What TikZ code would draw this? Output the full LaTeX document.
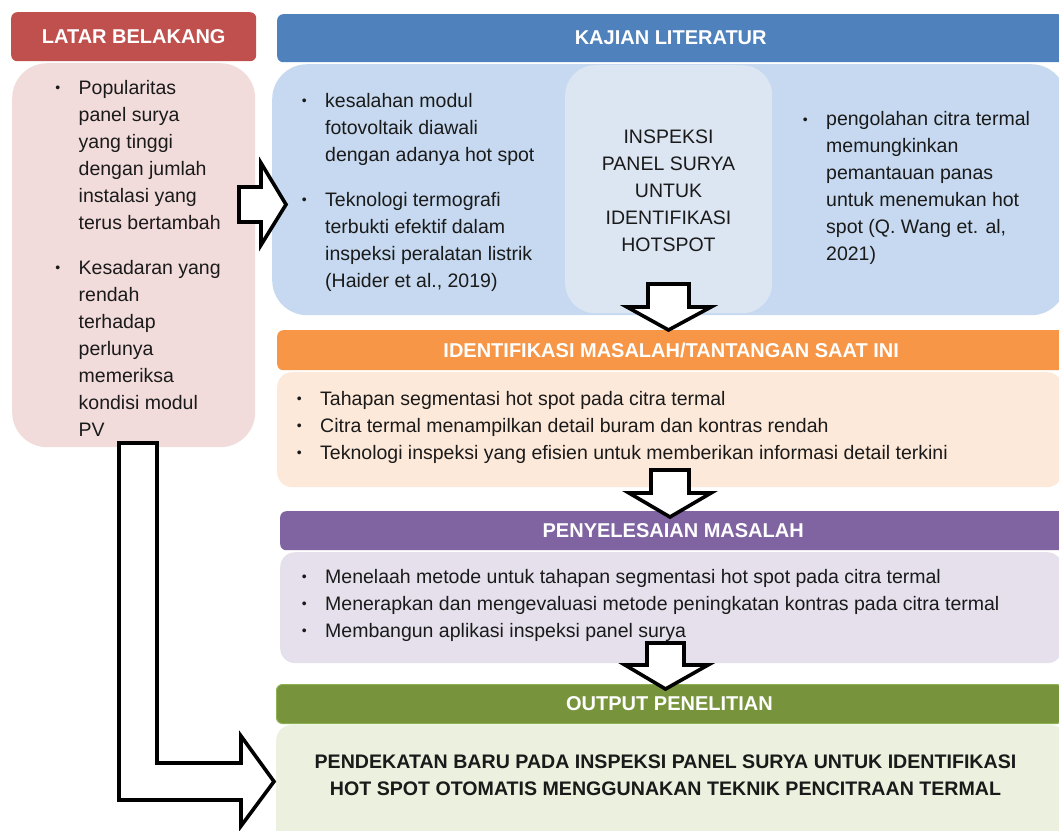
\documentclass[tikz,border=0pt]{standalone}
\usepackage{fontspec}
\setmainfont{Liberation Sans}
\definecolor{cred}{HTML}{C0504D}
\definecolor{cblue}{HTML}{4F81BD}
\definecolor{corange}{HTML}{F79646}
\definecolor{cpurple}{HTML}{8064A2}
\definecolor{cgreen}{HTML}{77933C}
\definecolor{cgreenline}{HTML}{8DB051}
\definecolor{bpink}{HTML}{F2DCDB}
\definecolor{bblue}{HTML}{C6D9F0}
\definecolor{binner}{HTML}{DCE6F2}
\definecolor{borange}{HTML}{FDE9D9}
\definecolor{bpurple}{HTML}{E5E0EC}
\definecolor{bgreen}{HTML}{EBF1DE}
\definecolor{tgray}{HTML}{1A1A1A}
\newcommand\bfnt{\fontsize{19.5}{27}\selectfont}
\newcommand\hfnt{\fontsize{20}{24}\selectfont\bfseries}
\newcommand\bul{\llap{\raisebox{1.2pt}{\fontsize{14}{14}\selectfont\textbullet}\hspace{18.5pt}}}
\begin{document}
\begin{tikzpicture}[x=1pt,y=-1pt,
  hdr/.style={rounded corners=6pt, text=white, font=\hfnt, inner sep=0pt, anchor=north west},
  bodybox/.style={inner sep=0pt, anchor=north west},
  txt/.style={inner sep=0pt, anchor=base west, align=left, font=\bfnt, text=tgray},
  blockarrow/.style={draw=black, fill=white, line width=3.6pt, miter limit=10}
]
\clip (0,0) rectangle (1059,830);
\fill[white] (0,0) rectangle (1059,830);

% Latar belakang (text nodes are placed by the baseline of their last line)
\node[hdr, fill=cred, minimum width=245pt, minimum height=49pt] (latarhdr) at (11,12) {LATAR BELAKANG};
\node[bodybox, fill=bpink, rounded corners=35pt, minimum width=243pt, minimum height=384pt] (latarbody) at (12,63) {};
\node[txt] (latartxt) at (78.5,436) {\bul Popularitas\\ panel surya\\ yang tinggi\\ dengan jumlah\\ instalasi yang\\ terus bertambah\\[18pt]
\bul Kesadaran yang\\ rendah\\ terhadap\\ perlunya\\ memeriksa\\ kondisi modul\\ PV};

% Kajian literatur
\node[hdr, fill=cblue, minimum width=787pt, minimum height=48pt] (kajhdr) at (277,14) {KAJIAN LITERATUR};
\node[bodybox, fill=bblue, rounded corners=35pt, minimum width=794pt, minimum height=251pt] (kajbody) at (272,64) {};
\node[bodybox, fill=binner, rounded corners=30pt, minimum width=207pt, minimum height=248pt] (inbox) at (565,65) {};
\node[txt, anchor=base, align=center] (intxt) at (668.5,251) {INSPEKSI\\ PANEL SURYA\\ UNTUK\\ IDENTIFIKASI\\ HOTSPOT};
\node[txt] (kajL) at (325,287) {\bul kesalahan modul\\ fotovoltaik diawali\\ dengan adanya hot spot\\[18pt]
\bul Teknologi termografi\\ terbukti efektif dalam\\ inspeksi peralatan listrik\\ (Haider et al., 2019)};
\node[txt] (kajR) at (826,260.5) {\bul pengolahan citra termal\\ memungkinkan\\ pemantauan panas\\ untuk menemukan hot\\ spot (Q. Wang et. al,\\ 2021)};

% Identifikasi
\node[hdr, fill=corange, minimum width=788pt, minimum height=40pt] (idhdr) at (277,330) {IDENTIFIKASI MASALAH/TANTANGAN SAAT INI};
\node[bodybox, fill=borange, rounded corners=15pt, minimum width=785pt, minimum height=115pt] (idbody) at (277,372) {};
\node[txt] (idtxt) at (320,459) {\bul Tahapan segmentasi hot spot pada citra termal\\
\bul Citra termal menampilkan detail buram dan kontras rendah\\
\bul Teknologi inspeksi yang efisien untuk memberikan informasi detail terkini};

% Penyelesaian
\node[hdr, fill=cpurple, minimum width=786pt, minimum height=39pt] (pshdr) at (280,511) {PENYELESAIAN MASALAH};
\node[bodybox, fill=bpurple, rounded corners=15pt, minimum width=782pt, minimum height=111pt] (psbody) at (280,552) {};
\node[txt] (pstxt) at (325,637) {\bul Menelaah metode untuk tahapan segmentasi hot spot pada citra termal\\
\bul Menerapkan dan mengevaluasi metode peningkatan kontras pada citra termal\\
\bul Membangun aplikasi inspeksi panel surya};

% Output
\node[hdr, fill=cgreen, draw=cgreenline, line width=1pt, minimum width=786pt, minimum height=39pt] (outhdr) at (276,684) {OUTPUT PENELITIAN};
\node[bodybox, fill=bgreen, rounded corners=15pt, minimum width=790pt, minimum height=120pt] (outbody) at (276,725) {};
\node[txt, anchor=base, align=center, font=\fontsize{19.6}{27}\selectfont\bfseries] (outtxt) at (665.5,795) {PENDEKATAN BARU PADA INSPEKSI PANEL SURYA UNTUK IDENTIFIKASI\\ HOT SPOT OTOMATIS MENGGUNAKAN TEKNIK PENCITRAAN TERMAL};

% Block arrows
\draw[blockarrow] (239,187) -- (261,187) -- (261,163) -- (286,204.5) -- (261,245) -- (261,222) -- (239,222) -- cycle;
\draw[blockarrow] (648,284) -- (689,284) -- (689,307) -- (711,307) -- (668.5,330) -- (627,307) -- (648,307) -- cycle;
\draw[blockarrow] (651,470) -- (689,470) -- (689,493) -- (711,493) -- (670,517) -- (629,493) -- (651,493) -- cycle;
\draw[blockarrow] (647,643) -- (684,643) -- (684,665) -- (708,665) -- (665.5,689) -- (625,665) -- (647,665) -- cycle;
\draw[blockarrow] (119,443) -- (157,443) -- (157,763) -- (241,763) -- (241,736) -- (274,781.5) -- (241,826) -- (241,800) -- (119,800) -- cycle;
\end{tikzpicture}
\end{document}
